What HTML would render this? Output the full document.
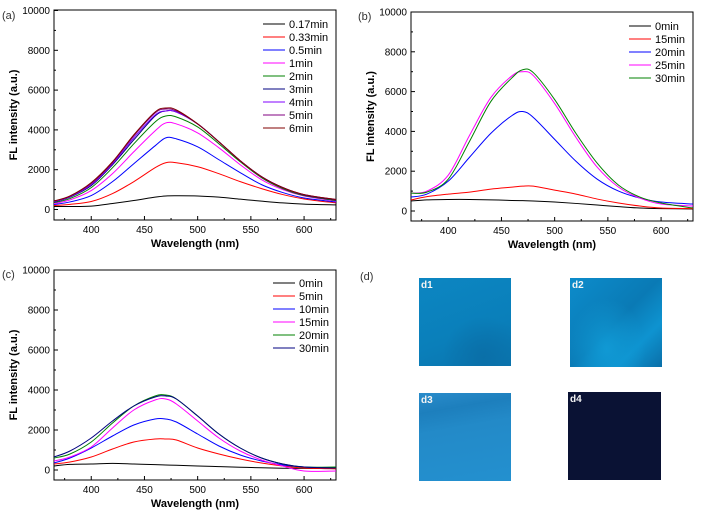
<!DOCTYPE html>
<html><head><meta charset="utf-8"><style>
body{margin:0;background:#fff;width:701px;height:520px;overflow:hidden;font-family:"Liberation Sans",Arial,sans-serif}
svg{position:absolute;left:0;top:0}
.img{position:absolute}
.lbl{position:absolute;color:#f4f4f4;font-weight:bold;font-size:10px;left:2px;top:2px}
</style></head><body>
<svg id="chart" width="701" height="520"></svg>
<div class="img" style="left:419px;top:278px;width:92px;height:88px;background:radial-gradient(circle at 70% 90%,#0a6fa8,transparent 40%),linear-gradient(160deg,#0c86c2,#0a7fba 60%,#0a74ad)"><span class="lbl">d1</span></div>
<div class="img" style="left:570px;top:278px;width:92px;height:89px;background:radial-gradient(ellipse at 40% 80%,#1099d4,transparent 50%),linear-gradient(135deg,#0c8ccb,#0a7ab5 50%,#0e93d0 75%,#0a6fa8)"><span class="lbl">d2</span></div>
<div class="img" style="left:419px;top:393px;width:92px;height:88px;background:linear-gradient(170deg,#2a8ccb,#1d7fbd 20%,#238ac8 40%,#2390cf)"><span class="lbl">d3</span></div>
<div class="img" style="left:568px;top:392px;width:93px;height:88px;background:#0a1234"><span class="lbl">d4</span></div>
<script>
const wavelengths=[365,380,400,420,440,460,470,480,500,520,540,560,580,600,630];
const aNames=["0.17min","0.33min","0.5min","1min","2min","3min","4min","5min","6min"];
const aColors=["#000000","#ff0000","#0000ff","#ff00ff","#008000","#000080","#8000ff","#800080","#800000"];
const a017=[150,150,170,300,450,620,680,690,680,620,520,420,330,270,230];
const a033=[200,260,400,800,1400,2100,2350,2350,2150,1800,1400,1050,750,530,330];
const a05=[250,380,700,1400,2300,3200,3600,3550,3150,2500,1850,1250,850,580,380];
const a1=[300,480,950,1800,2900,3950,4350,4300,3850,3100,2250,1500,1000,680,420];
const a2=[350,550,1100,2100,3300,4400,4700,4650,4150,3300,2400,1600,1050,700,450];
const a3=[380,620,1200,2250,3500,4700,4950,4900,4300,3400,2450,1650,1100,730,480];
const a4=[400,640,1250,2300,3600,4750,4950,4900,4300,3400,2450,1650,1100,740,500];
const a5=[420,660,1300,2350,3700,4850,5050,4950,4300,3400,2450,1650,1100,750,500];
const a6=[430,680,1350,2400,3750,4900,5100,5000,4300,3400,2450,1650,1100,750,500];
const bNames=["0min","15min","20min","25min","30min"];
const bColors=["#000000","#ff0000","#0000ff","#ff00ff","#008000"];
const b0=[500,560,580,580,560,530,520,500,450,380,300,220,150,120,100];
const b15=[550,720,850,950,1100,1200,1250,1250,1050,850,600,400,250,150,120];
const b20=[700,850,1500,2700,3900,4800,5000,4700,3600,2500,1600,1000,650,450,350];
const b25=[900,1000,1800,3800,5700,6800,7000,6800,5400,3700,2200,1200,650,350,250];
const b30=[900,950,1600,3500,5500,6700,7100,6950,5600,3900,2400,1300,700,400,150];
const cNames=["0min","5min","10min","15min","20min","30min"];
const cColors=["#000000","#ff0000","#0000ff","#ff00ff","#008000","#000080"];
const c0=[200,280,300,330,300,270,250,240,200,170,140,110,90,80,70];
const c5=[300,400,650,1050,1400,1550,1550,1500,1100,800,550,350,200,100,60];
const c10=[350,600,1100,1700,2250,2550,2550,2400,1800,1200,750,450,250,150,100];
const c15=[450,650,1150,2100,3000,3500,3550,3300,2450,1600,950,500,200,-50,-50];
const c20=[600,800,1400,2350,3200,3700,3750,3550,2700,1800,1100,600,300,150,150];
const c30=[650,950,1600,2450,3200,3650,3700,3550,2700,1800,1100,600,300,150,100];
const xTicks=[400,450,500,550,600];
const yTicks=[0,2000,4000,6000,8000,10000];

const NS="http://www.w3.org/2000/svg";
const svg=document.getElementById('chart');
function mk(tag,attrs,parent){const e=document.createElementNS(NS,tag);for(const k in attrs)e.setAttribute(k,attrs[k]);(parent||svg).appendChild(e);return e;}
function txt(s,attrs,parent){const e=mk('text',attrs,parent);e.textContent=s;return e;}

function panel(id,label,box,series,names,colors,legend){
  const g=mk('g',{});
  
  
  const X=v=>box.x0+(v-365)/(630-365)*(box.x1-box.x0);
  const Y=v=>box.y0-(v/10000)*(box.y0-box.yt);
  const pl=txt(label,{x:box.lx,y:box.ly,'font-size':11,fill:'#333'},g);
  
  
  const fr=mk('rect',{x:box.x0,y:box.top,width:box.x1-box.x0,height:box.bot-box.top,fill:'none',stroke:'#000','stroke-width':1},g);
  
  
  for(let v=375;v<=625;v+=25){
    const major=v%50===0;
    mk('line',{x1:X(v),x2:X(v),y1:box.bot,y2:box.bot-(major?4:2),stroke:'#000'},g);
  }
  xTicks.forEach(v=>{const t=txt(String(v),{x:X(v),y:box.bot+13,'font-size':10,'text-anchor':'middle'},g);
    });
  for(let v=0;v<=10000;v+=1000){
    const major=v%2000===0;
    mk('line',{x1:box.x0,x2:box.x0+(major?4:2),y1:Y(v),y2:Y(v),stroke:'#000'},g);
  }
  yTicks.forEach(v=>{const t=txt(String(v),{x:box.x0-4,y:Y(v)+3.5,'font-size':10,'text-anchor':'end'},g);
    });
  const xt=txt('Wavelength (nm)',{x:(box.x0+box.x1)/2,y:box.bot+27,'font-size':11,'font-weight':'bold','text-anchor':'middle'},g);
  
  const cy=(box.top+box.bot)/2, lx=box.x0-37;
  const yt=txt('FL intensity (a.u.)',{x:lx,y:cy,'font-size':11,'font-weight':'bold','text-anchor':'middle',transform:`rotate(-90 ${lx} ${cy})`},g);
  
  const clip=mk('clipPath',{id:'clip'+id},g);
  mk('rect',{x:box.x0,y:box.top,width:box.x1-box.x0,height:box.bot-box.top},clip);
  series.forEach((s,i)=>{
    const pts=wavelengths.map((w,j)=>[X(w),Y(s[j])]);
    let d=`M${pts[0][0]},${pts[0][1]}`;
    for(let k=0;k<pts.length-1;k++){
      const p0=pts[k-1]||pts[k],p1=pts[k],p2=pts[k+1],p3=pts[k+2]||p2;
      d+=`C${p1[0]+(p2[0]-p0[0])/6},${p1[1]+(p2[1]-p0[1])/6} ${p2[0]-(p3[0]-p1[0])/6},${p2[1]-(p3[1]-p1[1])/6} ${p2[0]},${p2[1]}`;
    }
    const p=mk('path',{d:d,fill:'none',stroke:colors[i],'stroke-width':1,'clip-path':`url(#clip${id})`},g);
    
    
    const ly=legend.y+i*13;
    const ll=mk('line',{x1:legend.x,x2:legend.x+22,y1:ly,y2:ly,stroke:colors[i],'stroke-width':1},g);
    
    const lt=txt(names[i],{x:legend.x+26,y:ly+4,'font-size':11},g);
    
  });
}
panel('a','(a)',{x0:54,x1:336,top:10,bot:220,y0:209.5,yt:10.5,lx:2,ly:19},[a017,a033,a05,a1,a2,a3,a4,a5,a6],aNames,aColors,{x:263,y:24});
panel('b','(b)',{x0:411,x1:693,top:12,bot:221,y0:211,yt:12,lx:358,ly:20},[b0,b15,b20,b25,b30],bNames,bColors,{x:629,y:26});
panel('c','(c)',{x0:54,x1:336,top:270,bot:480,y0:470,yt:270,lx:2,ly:278},[c0,c5,c10,c15,c20,c30],cNames,cColors,{x:273,y:283});
const dl=txt('(d)',{x:360,y:280,'font-size':11,fill:'#333'});


</script>
</body></html>
